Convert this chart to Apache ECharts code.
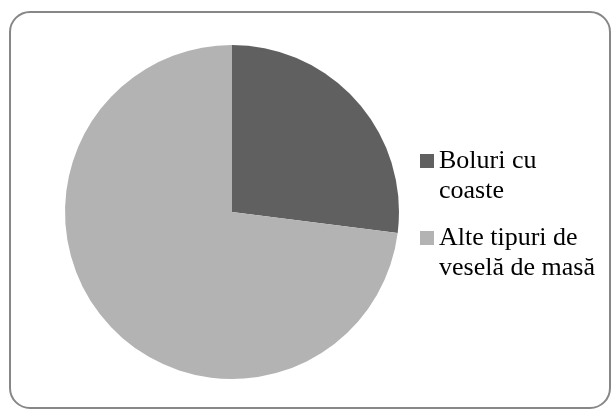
<!DOCTYPE html>
<html>
<head>
<meta charset="utf-8">
<script src="https://cdn.jsdelivr.net/npm/echarts@6/dist/echarts.min.js"></script>
<style>
html,body{margin:0;padding:0;background:#fff;}
#chart{width:611px;height:409px;}
</style>
</head>
<body>
<div id="chart"></div>
<script>
const categories = ['Boluri cu coaste', 'Alte tipuri de veselă de masă'];
const legendLines = [['Boluri cu', 'coaste'], ['Alte tipuri de', 'veselă de masă']];
const values = [27, 73];
const colors = ['#606060', '#b3b3b3'];

const chart = echarts.init(document.getElementById('chart'));
const legendTops = [116, 193];
chart.setOption({
  animation: false,
  backgroundColor: '#ffffff',
  color: colors,
  graphic: [{
    type: 'rect',
    shape: {x: 10, y: 12, width: 600, height: 396, r: 20},
    style: {fill: 'none', stroke: '#878787', lineWidth: 2},
    silent: true
  }],
  legend: categories.map((c, i) => ({
    data: [c],
    left: 420,
    top: legendTops[i],
    padding: 0,
    orient: 'vertical',
    icon: 'rect',
    itemWidth: 14,
    itemHeight: 14,
    selectedMode: false,
    formatter: name => '\n' + legendLines[categories.indexOf(name)].join('\n'),
    textStyle: {fontFamily: 'Liberation Serif', fontSize: 26, lineHeight: 30, color: '#000'}
  })),
  series: [{
    type: 'pie',
    center: [232, 212],
    radius: 167,
    startAngle: 90,
    clockwise: true,
    label: {show: false},
    labelLine: {show: false},
    emphasis: {disabled: true},
    itemStyle: {borderWidth: 0},
    data: categories.map((c, i) => ({name: c, value: values[i]}))
  }]
});
</script>
</body>
</html>
